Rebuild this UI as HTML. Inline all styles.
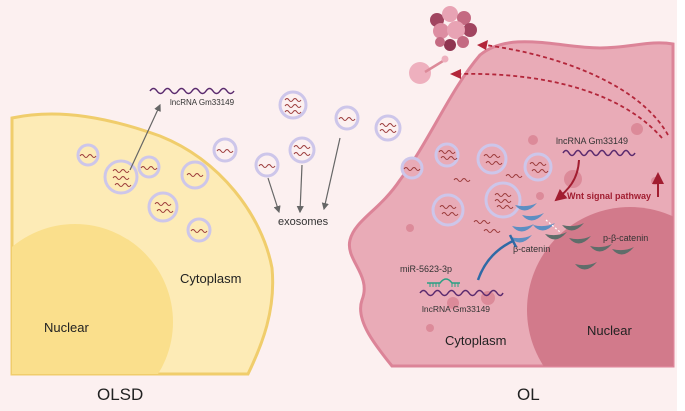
<!DOCTYPE html>
<html><head><meta charset="utf-8"><style>
html,body{margin:0;padding:0;background:#fdf0f0;}
svg{display:block;font-family:"Liberation Sans",sans-serif;}
</style></head><body>
<svg width="685" height="411" viewBox="0 0 685 411">
<defs>
<path id="w" d="M0,0 q2,-3 4,0 t4,0 t4,0 t4,0" fill="none" stroke="#9b3a3a" stroke-width="1"/>
<path id="c" d="M0,0 q10,12 22,-2 q-10,5 -22,2z"/>
<clipPath id="yc"><path d="M12,118 C60,108 110,118 160,136 C220,160 262,215 272,268 C276,310 262,345 248,374 L12,374 Z"/></clipPath>
<clipPath id="pc"><path d="M392,366 C375,345 355,320 362,300 C372,275 345,260 350,240 C355,220 380,210 400,180 C430,140 450,90 480,55 C510,30 560,48 600,48 C630,48 650,40 673,44 L673,366 Z"/></clipPath>
<marker id="ga" markerWidth="6" markerHeight="6" refX="5" refY="3" orient="auto"><path d="M0,0 L6,3 L0,6 Z" fill="#666"/></marker>
<marker id="ra" markerWidth="6" markerHeight="6" refX="5" refY="3" orient="auto"><path d="M0,0 L6,3 L0,6 Z" fill="#a11d30"/></marker>
</defs>
<rect x="0" y="0" width="677" height="411" fill="#fcf0f0"/>
<rect x="677" y="0" width="8" height="411" fill="#fff"/>
<path d="M12,118 C60,108 110,118 160,136 C220,160 262,215 272,268 C276,310 262,345 248,374 L12,374 Z" fill="#fdebb6" stroke="#f0cd6c" stroke-width="3"/>
<g clip-path="url(#yc)"><circle cx="75" cy="322" r="98" fill="#fadf8c"/></g>
<path d="M392,366 C375,345 355,320 362,300 C372,275 345,260 350,240 C355,220 380,210 400,180 C430,140 450,90 480,55 C510,30 560,48 600,48 C630,48 650,40 673,44 L673,366 Z" fill="#e9abb7" stroke="#dc8498" stroke-width="3"/>
<g clip-path="url(#pc)"><circle cx="630" cy="310" r="103" fill="#d27a8b"/></g>
<g fill="#dc8a99"><circle cx="573" cy="179" r="9"/><circle cx="533" cy="140" r="5"/><circle cx="540" cy="196" r="4"/><circle cx="453" cy="303" r="6"/><circle cx="488" cy="298" r="7"/><circle cx="430" cy="328" r="4"/><circle cx="637" cy="129" r="6"/><circle cx="655" cy="181" r="4"/><circle cx="410" cy="228" r="4"/></g>
<g stroke="#cdc6ea" stroke-width="3">
<circle cx="88" cy="155" r="10" fill="#fdebb6"/><circle cx="121" cy="177" r="16" fill="#fdebb6"/><circle cx="149" cy="167" r="10" fill="#fdebb6"/><circle cx="195" cy="175" r="13" fill="#fdebb6"/><circle cx="163" cy="207" r="14" fill="#fdebb6"/><circle cx="199" cy="230" r="11" fill="#fdebb6"/>
<circle cx="225" cy="150" r="11" fill="#fcf0f0"/><circle cx="267" cy="165" r="11" fill="#fcf0f0"/><circle cx="302" cy="150" r="12" fill="#fcf0f0"/><circle cx="293" cy="105" r="13" fill="#fcf0f0"/><circle cx="347" cy="118" r="11" fill="#fcf0f0"/><circle cx="388" cy="128" r="12" fill="#fcf0f0"/>
<circle cx="412" cy="168" r="10" fill="#e9abb7"/><circle cx="447" cy="155" r="11" fill="#e9abb7"/><circle cx="492" cy="159" r="14" fill="#e9abb7"/><circle cx="538" cy="167" r="13" fill="#e9abb7"/><circle cx="503" cy="200" r="17" fill="#e9abb7"/><circle cx="448" cy="210" r="15" fill="#e9abb7"/>
</g>
<g>
<use href="#w" x="80" y="156"/><use href="#w" x="113" y="171"/><use href="#w" x="113" y="178"/><use href="#w" x="115" y="185"/><use href="#w" x="141" y="168"/><use href="#w" x="187" y="175"/><use href="#w" x="155" y="204"/><use href="#w" x="157" y="211"/><use href="#w" x="191" y="231"/>
<use href="#w" x="217" y="151"/><use href="#w" x="259" y="166"/><use href="#w" x="294" y="147"/><use href="#w" x="294" y="154"/><use href="#w" x="285" y="100"/><use href="#w" x="285" y="106"/><use href="#w" x="285" y="112"/><use href="#w" x="339" y="119"/><use href="#w" x="380" y="125"/><use href="#w" x="380" y="131"/>
<use href="#w" x="404" y="169"/><use href="#w" x="439" y="152"/><use href="#w" x="441" y="158"/><use href="#w" x="484" y="156"/><use href="#w" x="486" y="163"/><use href="#w" x="530" y="164"/><use href="#w" x="532" y="171"/><use href="#w" x="495" y="195"/><use href="#w" x="495" y="201"/><use href="#w" x="497" y="207"/><use href="#w" x="440" y="207"/><use href="#w" x="442" y="214"/>
<use href="#w" x="454" y="180"/><use href="#w" x="474" y="222"/><use href="#w" x="484" y="231"/><use href="#w" x="506" y="176"/>
</g>
<g stroke="#666" stroke-width="1.2" fill="none" marker-end="url(#ga)">
<path d="M130,170 L160,105"/><path d="M268,178 L279,212"/><path d="M302,165 L300,212"/><path d="M340,138 L324,209"/>
</g>
<path d="M150,91 q3.5,-5 7,0 t7,0 t7,0 t7,0 t7,0 t7,0 t7,0 t7,0 t7,0 t7,0 t7,0 t7,0" fill="none" stroke="#5a2a6e" stroke-width="1.5"/>
<text x="170" y="105" font-size="8" fill="#333">lncRNA Gm33149</text>
<text x="278" y="225" font-size="11" fill="#333">exosomes</text>
<text x="180" y="283" font-size="13" fill="#222">Cytoplasm</text>
<text x="44" y="332" font-size="13" fill="#222">Nuclear</text>
<text x="97" y="400" font-size="17" fill="#222">OLSD</text>
<text x="517" y="400" font-size="17" fill="#222">OL</text>
<path d="M563,153 q3,-5 6,0 t6,0 t6,0 t6,0 t6,0 t6,0 t6,0 t6,0 t6,0 t6,0 t6,0 t6,0" fill="none" stroke="#5a2a6e" stroke-width="1.5"/>
<text x="556" y="144" font-size="9" fill="#333">lncRNA Gm33149</text>
<path d="M579,160 C578,180 568,190 556,200" fill="none" stroke="#a11d30" stroke-width="2" marker-end="url(#ra)"/>
<text x="567" y="199" font-size="9" fill="#a11d30" font-weight="bold">Wnt signal pathway</text>
<path d="M658,197 L658,174" stroke="#a11d30" stroke-width="2" marker-end="url(#ra)"/>
<g fill="none" stroke="#b3263a" stroke-width="1.8" stroke-dasharray="4,3">
<path d="M668,135 C640,85 560,55 485,45"/><path d="M662,138 C620,90 540,72 458,74"/>
</g>
<path d="M477,45 L488,40 L486,50 Z" fill="#b3263a"/><path d="M450,74 L461,69 L461,79 Z" fill="#b3263a"/>
<g>
<circle cx="437" cy="20" r="7" fill="#a14560"/><circle cx="450" cy="14" r="8" fill="#e8a3b4"/><circle cx="464" cy="18" r="7" fill="#c46a82"/><circle cx="470" cy="30" r="7" fill="#a14560"/><circle cx="441" cy="31" r="8" fill="#dd8ea2"/><circle cx="456" cy="30" r="9" fill="#e8a3b4"/><circle cx="463" cy="42" r="6" fill="#c46a82"/><circle cx="450" cy="45" r="6" fill="#8f3550"/><circle cx="440" cy="42" r="5" fill="#c46a82"/>
</g>
<circle cx="420" cy="73" r="11" fill="#eeb0be"/><path d="M425,72 L443,61" stroke="#dc8a99" stroke-width="2.5"/><circle cx="445" cy="59" r="3.5" fill="#eeb0be"/>
<g fill="#5d8ec2">
<use href="#c" x="515" y="205"/><use href="#c" x="522" y="215"/><use href="#c" x="512" y="226"/><use href="#c" x="510" y="237"/><use href="#c" x="533" y="225"/>
</g>
<g fill="#5f6d6a">
<use href="#c" x="562" y="225"/><use href="#c" x="545" y="234"/><use href="#c" x="569" y="238"/><use href="#c" x="590" y="246"/><use href="#c" x="612" y="249"/><use href="#c" x="575" y="264"/>
</g>
<path d="M546,220 L560,232" stroke="#fff" stroke-width="1.2" stroke-dasharray="2,2"/>
<text x="513" y="252" font-size="9" fill="#333">β-catenin</text>
<text x="603" y="241" font-size="9" fill="#333">p-β-catenin</text>
<path d="M478,280 C485,260 498,248 513,241" fill="none" stroke="#2f6aa6" stroke-width="2.5"/>
<path d="M510,235 L516,247" stroke="#2f6aa6" stroke-width="2.5"/>
<text x="400" y="272" font-size="9" fill="#333">miR-5623-3p</text>
<path d="M427,283 L440,283 q6,-8 12,0 L460,283" fill="none" stroke="#2aa084" stroke-width="1.5"/>
<g stroke="#2aa084" stroke-width="1"><path d="M430,283v4M433,283v4M436,283v4M439,283v4M452,283v4M455,283v4M458,283v4"/></g>
<path d="M420,293 q3.5,-5 7,0 t7,0 t7,0 t7,0 t7,0 t7,0 t7,0 t7,0 t7,0 t7,0 t7,0 t6,0" fill="none" stroke="#5a2a6e" stroke-width="1.5"/>
<text x="422" y="312" font-size="8.5" fill="#333">lncRNA Gm33149</text>
<text x="445" y="345" font-size="13" fill="#222">Cytoplasm</text>
<text x="587" y="335" font-size="13" fill="#222">Nuclear</text>
</svg>
</body></html>
